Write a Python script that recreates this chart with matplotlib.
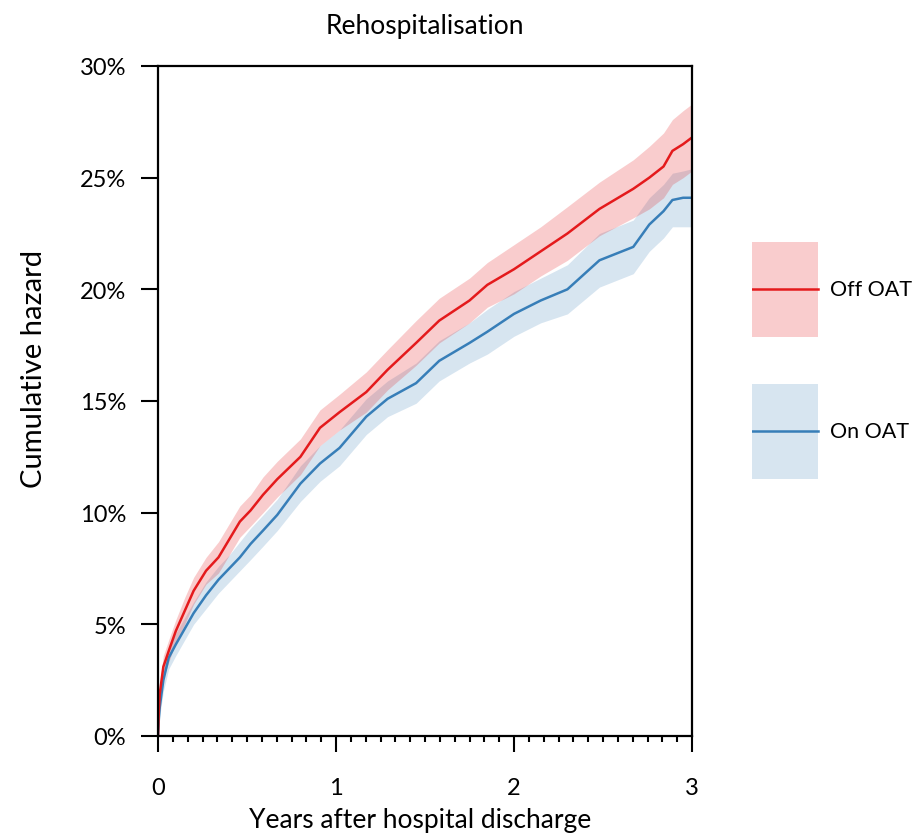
import numpy as np
import matplotlib
matplotlib.use("Agg")
import matplotlib.pyplot as plt
from matplotlib.patches import Rectangle

plt.rcParams['font.family'] = ['Lato', 'DejaVu Sans']

# years after discharge
years = [0, 0.005, 0.01, 0.03, 0.06, 0.1, 0.15, 0.2, 0.27, 0.34, 0.4, 0.46, 0.52, 0.59,
         0.67, 0.8, 0.91, 1.02, 1.17, 1.29, 1.45, 1.58, 1.75, 1.85, 2.0, 2.15, 2.3, 2.48,
         2.67, 2.76, 2.84, 2.89, 2.95, 3.0]

# Off OAT: cumulative hazard (%) and 95% band
off_oat = [0, 1.2, 1.9, 3.1, 3.8, 4.7, 5.6, 6.5, 7.4, 8.0, 8.8, 9.6, 10.1, 10.8, 11.5, 12.5,
           13.8, 14.5, 15.4, 16.4, 17.6, 18.6, 19.5, 20.2, 20.9, 21.7, 22.5, 23.6, 24.5,
           25.0, 25.5, 26.2, 26.5, 26.8]
off_hi = [0, 1.6, 2.4, 3.6, 4.3, 5.2, 6.2, 7.1, 8.0, 8.7, 9.5, 10.3, 10.8, 11.6, 12.3, 13.3,
          14.6, 15.3, 16.3, 17.3, 18.6, 19.6, 20.5, 21.2, 22.0, 22.8, 23.7, 24.8, 25.8,
          26.4, 27.0, 27.6, 28.0, 28.3]
off_lo = [0, 0.8, 1.4, 2.6, 3.3, 4.2, 5.0, 5.9, 6.8, 7.3, 8.1, 8.9, 9.4, 10.0, 10.7, 11.7,
          13.0, 13.7, 14.5, 15.5, 16.6, 17.6, 18.5, 19.2, 19.8, 20.6, 21.3, 22.4, 23.2,
          23.6, 24.1, 24.7, 25.0, 25.3]

# On OAT
on_oat = [0, 0.8, 1.3, 2.5, 3.5, 4.1, 4.8, 5.5, 6.3, 7.0, 7.5, 8.0, 8.6, 9.2, 9.9, 11.3,
          12.2, 12.9, 14.3, 15.1, 15.8, 16.8, 17.6, 18.1, 18.9, 19.5, 20.0, 21.3, 21.9,
          22.9, 23.5, 24.0, 24.1, 24.1]
on_hi = [0, 1.1, 1.7, 3.0, 4.0, 4.6, 5.3, 6.0, 6.9, 7.6, 8.1, 8.7, 9.3, 9.9, 10.6, 12.1,
         13.0, 13.7, 15.1, 15.9, 16.7, 17.7, 18.5, 19.1, 19.9, 20.5, 21.1, 22.5, 23.1,
         24.1, 24.7, 25.2, 25.3, 25.4]
on_lo = [0, 0.5, 0.9, 2.0, 3.0, 3.6, 4.3, 5.0, 5.7, 6.4, 6.9, 7.4, 7.9, 8.5, 9.2, 10.5,
         11.4, 12.1, 13.5, 14.3, 14.9, 15.9, 16.7, 17.1, 17.9, 18.5, 18.9, 20.1, 20.7,
         21.7, 22.3, 22.8, 22.8, 22.8]

red = '#e41a1c'
blue = '#377eb8'

fig = plt.figure(figsize=(9.22, 8.37), dpi=100)
ax = fig.add_axes([158/922, 1-737/837, 534/922, 670/837])

ax.fill_between(years, on_lo, on_hi, color=blue, alpha=0.2, lw=0)
ax.fill_between(years, off_lo, off_hi, color=red, alpha=0.22, lw=0)
ax.plot(years, on_oat, color=blue, lw=1.8)
ax.plot(years, off_oat, color=red, lw=1.8)

ax.set_xlim(0, 3)
ax.set_ylim(0, 30)
ax.set_xticks([0, 1, 2, 3])
ax.set_xticks(np.arange(0, 3, 1/12), minor=True)
ax.set_yticks(range(0, 31, 5))
ax.set_yticklabels([f'{v}%' for v in range(0, 31, 5)])

for s in ax.spines.values():
    s.set_linewidth(1.6)
ax.tick_params(axis='y', length=12, width=1.5, pad=11, labelsize=17)
ax.tick_params(axis='x', which='major', length=11.5, width=1.5, pad=18, labelsize=17)
ax.tick_params(axis='x', which='minor', length=4.5, width=1.5)

ax.set_title('Rehospitalisation', fontsize=19, pad=24)
ax.set_xlabel('Years after hospital discharge', fontsize=19)
ax.set_ylabel('Cumulative hazard', fontsize=21)
ax.xaxis.set_label_coords(0.49, -0.106)
ax.yaxis.set_label_coords(-0.208, 0.55)

# legend drawn in its own little axes
lax = fig.add_axes([752/922, 1-480/837, 170/922, 237/837])
lax.set_xlim(0, 170)
lax.set_ylim(480, 243)
lax.axis('off')
for (y0, y1), c, a, lab in [((243, 338), red, 0.22, 'Off OAT'), ((385, 480), blue, 0.2, 'On OAT')]:
    lax.add_patch(Rectangle((0, y0), 66, y1 - y0, color=c, alpha=a, lw=0))
    ym = (y0 + y1) / 2
    lax.plot([0, 66], [ym, ym], color=c, lw=1.8)
    lax.text(78, ym, lab, va='center', ha='left', fontsize=15.5)

fig.savefig('out.png', dpi=100)
